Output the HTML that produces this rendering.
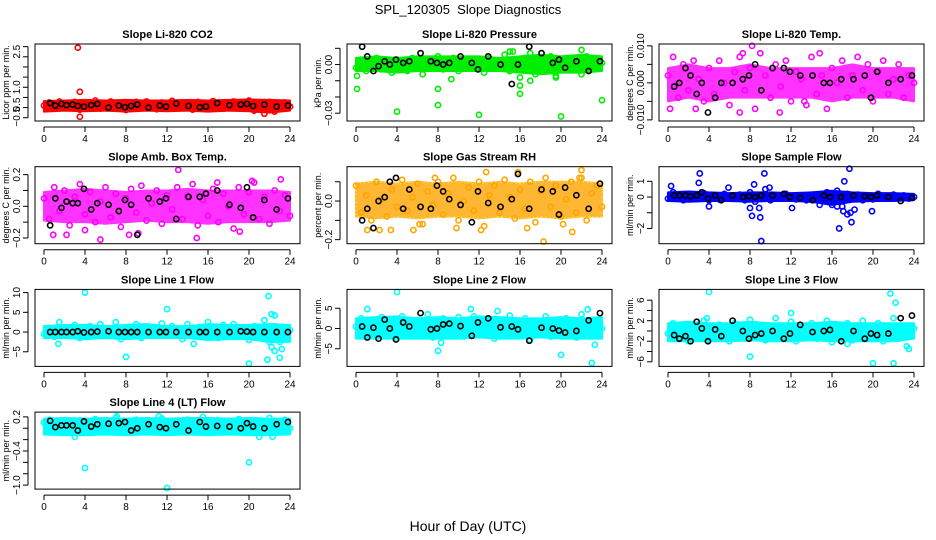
<!DOCTYPE html>
<html><head><meta charset="utf-8"><style>
body{margin:0;background:#fff;}
svg{display:block;font-family:"Liberation Sans",sans-serif;}
</style></head><body>
<svg id="c" width="936" height="540" viewBox="0 0 936 540">
<text x="468" y="14" text-anchor="middle" font-size="13" xml:space="preserve">SPL_120305  Slope Diagnostics</text>
<text x="468" y="531" text-anchor="middle" font-size="14">Hour of Day (UTC)</text>
</svg>
<script>
const CT=[0,0.5,1,1.5,2,2.5,3,3.5,4,4.5,5,5.5,6,6.5,7,7.5,8,8.5,9,9.5,10,10.5,11,11.5,12,12.5,13,13.5,14,14.5,15,15.5,16,16.5,17,17.5,18,18.5,19,19.5,20,20.5,21,21.5,22,22.5,23,23.5,24];
const BT=[0.6,1.1,1.7,2.2,2.8,3.3,3.9,4.6,5.2,6.3,7.3,7.9,8.5,9.1,10.2,11.3,11.9,12.9,14.1,15.2,15.8,16.9,18.1,19.2,19.8,20.4,21.5,22.7,23.8];
const BANDT=[0,2,4,6,8,10,12,14,16,18,20,22,24];
const xTicks=[0,4,8,12,16,20,24];
const titles=["Slope Li-820 CO2","Slope Li-820 Pressure","Slope Li-820 Temp.","Slope Amb. Box Temp.","Slope Gas Stream RH","Slope Sample Flow","Slope Line 1 Flow","Slope Line 2 Flow","Slope Line 3 Flow","Slope Line 4 (LT) Flow"];
const yTitles=["Licor ppm per min.","kPa per min.","degrees C per min.","degrees C per min.","percent per min.","ml/min per min.","ml/min per min.","ml/min per min.","ml/min per min.","ml/min per min."];
const colors=["#ff0000","#00ee00","#ff00ff","#ff00ff","#ffa500","#0000ff","#00ffff","#00ffff","#00ffff","#00ffff"];
const bandOpacity=[1,1,0.8,0.8,0.8,1,1,1,1,1];
const yDomains=[[-0.66,3.13],[-0.0348,0.01265],[-0.0103,0.0105],[-0.236,0.25],[-0.221,0.178],[-2.97,1.93],[-8.7,10.8],[-9.35,9.65],[-6.9,8.1],[-1.07,0.284]];
const yTicks=[[-0.5,0,0.5,1,1.5,2,2.5,3],[-0.03,-0.02,-0.01,0,0.01],[-0.01,-0.005,0,0.005,0.01],[-0.2,-0.1,0,0.1,0.2],[-0.2,-0.1,0,0.1],[-2,-1,0,1],[-5,0,5,10],[-5,0,5],[-6,-4,-2,0,2,4,6],[-1,-0.8,-0.6,-0.4,-0.2,0,0.2]];
const yLabelVals=[[-0.45,0.15,1,2.75],[-0.03,0],[-0.01,0,0.01],[-0.2,0,0.2],[-0.2,0],[-2,0,1],[-5,0,5,10],[-5,0,5],[-6,-2,2,6],[-1,-0.4,0.2]];
const yLabelTxt=[["\u22120.5","0.5","1.0","2.5"],["\u22120.03","0.00"],["\u22120.010","0.000","0.010"],["\u22120.2","0.0","0.2"],["\u22120.2","0.0"],["\u22122","0","1"],["\u22125","0","5","10"],["\u22125","0","5"],["\u22126","\u22122","2","6"],["\u22121.0","\u22120.4","0.2"]];
const C1=[0.1,0.25,-0.05,0.3,0.15,0.05,0.28,-0.1,0.2,0.12,0.35,-0.05,0.18,0.3,0.05,0.22,-0.12,0.15,0.28,0.02,0.3,0.1,-0.08,0.25,0.15,0.33,0.0,0.2,0.12,-0.1,0.28,0.18,0.05,0.32,0.1,-0.05,0.22,0.3,0.08,0.15,0.35,-0.15,0.2,0.05,0.28,-0.2,0.12,0.25,0.05];
const C2=[-0.002,0.003,-0.004,0.001,0.004,-0.003,0.002,-0.005,0.003,0.0,-0.004,0.004,0.001,-0.006,0.003,-0.002,0.005,-0.003,0.002,0.004,-0.004,0.001,-0.002,0.003,0.0,-0.005,0.004,-0.001,0.002,0.006,-0.004,0.003,-0.008,0.004,0.007,-0.006,0.002,-0.003,0.005,-0.007,0.003,-0.002,0.004,0.001,-0.006,0.005,-0.003,0.002,0.001];
const C3=[0.002,0.007,-0.004,0.005,-0.002,0.006,0.001,-0.005,0.004,-0.003,0.006,0.0,-0.006,0.003,0.007,-0.002,0.004,-0.007,0.008,0.002,-0.004,0.005,-0.001,0.006,-0.005,0.003,0.001,-0.006,0.007,-0.003,0.002,-0.007,0.004,0.0,0.006,-0.004,0.002,0.007,-0.002,0.005,-0.005,0.003,0.006,-0.003,0.001,0.005,-0.004,0.002,0.0];
const C4=[0.05,-0.08,0.12,-0.03,0.1,-0.12,0.06,0.14,-0.05,0.09,-0.1,0.03,0.12,-0.07,0.08,-0.13,0.05,0.11,-0.04,0.13,-0.09,0.02,0.1,-0.11,0.07,-0.02,0.12,-0.08,0.06,0.14,-0.12,0.04,-0.06,0.11,-0.1,0.08,0.0,-0.14,0.12,-0.05,0.09,0.15,-0.08,0.06,-0.11,0.1,-0.03,0.07,-0.06];
const C5=[0.08,-0.06,0.03,-0.1,0.1,0.01,-0.08,0.06,-0.03,0.11,-0.05,0.02,0.09,-0.12,0.05,-0.02,0.1,-0.07,0.04,0.12,-0.1,0.0,0.07,-0.05,0.1,-0.13,0.03,0.08,-0.06,0.11,0.02,-0.09,0.06,-0.04,0.1,-0.11,0.05,0.12,-0.03,0.08,-0.08,0.01,0.1,-0.06,0.12,-0.1,0.04,0.08,-0.03];
const C6=[-0.1,0.3,0.1,-0.2,0.2,-0.1,0.0,0.25,-0.2,0.1,-0.15,0.2,0.05,-0.1,0.15,-0.2,0.3,-0.3,0.1,0.5,-0.2,0.1,-0.1,0.2,0.0,-0.15,0.1,-0.2,0.15,0.05,-0.1,0.3,-0.5,0.4,-0.6,0.2,-0.1,0.15,-0.2,0.1,-0.15,0.2,0.05,-0.1,0.15,-0.05,0.1,-0.1,0.0];
const C7=[-0.5,1.0,-1.2,2.5,-0.8,0.5,1.8,-1.5,0.2,1.5,-1.0,2.0,-0.5,0.8,2.5,-1.8,1.0,-0.2,2.0,-1.5,0.5,1.2,-1.0,2.2,-0.6,1.5,0.3,-1.8,2.0,-0.8,1.0,-1.2,2.5,0.2,-1.5,1.8,-0.5,2.0,-1.2,0.8,-2.0,1.5,-0.5,3.0,-2.5,1.5,-2.5,1.0,0.5];
const C8=[0.5,2.5,-2.0,1.0,-1.5,2.8,-0.5,1.5,-2.5,3.0,0.5,-1.8,2.0,-1.0,3.5,-2.2,0.8,2.5,-1.5,0.0,2.8,-2.0,1.2,3.0,-1.2,0.5,2.2,-2.5,1.5,-0.8,3.2,-1.5,0.2,2.5,-2.8,1.0,-0.5,3.0,-2.0,1.8,-1.2,2.5,0.5,-2.2,3.5,-1.0,2.0,-1.5,0.0];
const C9=[-0.5,1.5,-1.5,0.5,-2.0,1.0,-0.8,2.0,-1.8,0.2,1.2,-1.2,-2.0,1.5,0.0,-1.5,2.2,-0.5,1.0,-1.8,0.5,2.5,-1.0,-0.2,1.8,-2.0,0.8,-0.8,1.5,-1.5,0.2,2.0,-2.2,1.0,-0.5,1.5,-1.8,0.5,2.0,-1.2,0.0,1.5,-2.0,0.8,2.5,-1.5,0.5,-0.8,0.5];
const C10=[0.1,0.15,-0.05,0.12,0.0,0.08,-0.08,0.14,0.02,-0.06,0.16,0.05,-0.02,0.12,0.18,-0.04,0.1,0.0,0.15,-0.07,0.08,0.13,-0.03,0.17,0.05,-0.05,0.1,0.02,0.15,-0.06,0.12,0.2,-0.02,0.08,0.14,-0.07,0.1,0.03,0.16,-0.04,0.1,-0.08,0.12,0.06,0.18,-0.05,0.1,0.15,0.0];
const OT1=[3.3,3.5,3.5,21.5],OV1=[2.95,0.78,-0.45,-0.3];
const OT2=[0.1,0.1,4,8,8,12,15,15.3,16,16,17,20,22,24,19.5,9.3],OV2=[-0.007,-0.015,-0.029,-0.015,-0.025,-0.031,0.008,0.008,-0.013,-0.018,-0.01,-0.032,0.009,-0.022,-0.008,-0.009];
const OT3=[0.2,8.2,14.8,13.3,2.7,7.3,10.9,7.0],OV3=[-0.007,0.01,0.008,-0.005,-0.007,0.008,-0.008,-0.008];
const OT4=[0.9,2.2,5.5,8.3,9.2,13.1,14.9,19.1,20.3,23.1,4.0,16.9],OV4=[-0.18,-0.18,-0.21,-0.18,-0.17,0.23,-0.2,-0.16,0.16,0.17,-0.15,0.15];
const OT5=[1.1,2.3,3.4,5.6,6.2,7.7,9.8,12.2,12.7,15.8,16.7,18.3,20.2,21.1,22.0,21.8],OV5=[-0.15,-0.15,-0.15,-0.15,-0.12,0.12,-0.14,-0.15,0.15,0.15,-0.14,-0.21,-0.12,-0.16,0.16,0.12];
const OT6=[0.3,3.1,3.0,4.0,8.2,8.0,8.4,8.9,9.0,9.1,9.4,9.9,12.1,16.7,16.5,17.1,17.2,17.5,17.7,17.9,18.2,19.9,17.8,5.9,14.8],OV6=[0.7,1.5,0.9,-0.6,-1.2,-0.7,0.8,-0.7,-1.3,-2.8,1.5,0.6,-0.7,-2.0,-0.6,-0.9,1.0,-1.1,1.8,-1.6,-0.8,-0.9,-1.0,0.6,-0.5];
const OT7=[4,8,12,20,21.9,21.8,22.2,22.5,23,22.5,23.2,22.2,1.4,14.6],OV7=[10,-6.3,5.8,-8,9.1,-7,4.5,4.2,-6.5,-4.8,-4.3,-3.8,-3.0,-3.0];
const OT8=[4,8,20,23,23.3,11.2,13.8,1.1,22.6,8.3],OV8=[9,-5.5,-6.5,-8.5,-4,4.8,4.3,4.8,4.7,-3.5];
const OT9=[4,8,20,22,21.7,22.2,12,23.3,23.5,17.5,3.8],OV9=[7.6,-5,-6.3,-6.3,7.3,5.5,3.5,-3.0,-3.5,-2.5,2.5];
const OT10=[4,12,20,3,21,22.3,11.2,7.1],OV10=[-0.7,-1.05,-0.6,-0.15,-0.15,-0.15,0.21,0.21];
const B1=[0.22,0.1,0.18,0.12,0.15,0.08,0.05,0.12,0.18,0.0,0.1,0.02,0.08,0.15,0.0,0.1,0.05,0.2,0.08,0.02,0.05,0.22,0.12,0.15,0.18,0.08,0.15,0.05,0.1];
const B2=[0.011,0.005,-0.004,-0.001,0.002,0.0,0.003,0.001,0.002,0.007,0.002,0.001,0.0,0.001,0.005,0.001,-0.003,0.005,0.0,-0.012,0.0,0.011,0.007,0.001,0.003,-0.002,0.002,-0.004,0.002];
const B3=[-0.001,0.0,0.004,0.002,-0.003,0.0,-0.008,-0.004,0.0,0.0,0.001,0.002,0.005,-0.002,0.004,0.004,0.003,0.002,0.002,0.0,0.0,0.001,0.001,0.002,-0.004,0.003,0.0,0.001,0.002];
const B4=[-0.12,0.05,-0.01,0.03,0.02,0.02,0.11,-0.02,0.02,0.01,-0.03,0.04,0.01,-0.18,0.05,0.03,0.05,-0.08,0.06,0.06,0.08,0.1,0.01,-0.01,0.12,-0.07,0.04,-0.02,0.05];
const B5=[-0.1,-0.04,-0.14,0.0,0.02,0.1,0.12,-0.04,0.06,-0.03,-0.04,0.08,0.05,0.01,-0.02,-0.11,0.05,-0.01,-0.03,0.01,0.14,-0.04,0.06,0.05,-0.07,0.07,0.03,-0.04,0.09];
const B6=[0.1,0.1,0.1,0.05,0.1,0.3,-0.1,0.1,-0.2,0.1,0.0,0.05,0.0,0.1,0.1,0.2,0.0,-0.05,-0.2,0.1,0.0,0.0,0.1,0.05,0.0,0.1,0.0,-0.25,-0.05];
const B7=[0,0,0,0,0,0.2,-0.1,0,0.1,0.2,0,0,0,0,0,0,0,0,0,0,0,0,0,0.2,0.1,0,0,0,0];
const B8=[0.5,-2.2,0.2,-2.5,2.2,0,-2.7,1.5,0.5,3.8,-0.2,0.0,1.0,1.2,0.6,-1.8,1.5,2.5,0.3,0.5,-0.2,-3.0,0.2,0.0,-0.5,-1.0,-0.6,2.0,3.8];
const B9=[-0.8,-1.5,-1.0,-2.0,1.8,0.5,-2.0,0.3,-1.0,2.0,0.0,-1.5,-0.8,-0.5,0.0,-1.5,-0.5,1.2,-0.2,0.0,0.2,-2.0,0.0,-1.5,-0.5,-0.8,-0.5,2.5,3.0];
const B10=[0.13,0.02,0.05,0.05,0.05,-0.04,0.12,0.03,0.07,0.08,0.09,0.11,-0.04,0.0,0.07,0.02,0.0,0.07,-0.04,0.11,0.03,0.04,0.03,0.0,0.09,0.03,0.0,0.07,0.11];
const BL1=[-0.2,-0.15,-0.18,-0.15,-0.2,-0.15,-0.18,-0.15,-0.2,-0.15,-0.18,-0.25,-0.15],BH1=[0.32,0.35,0.38,0.35,0.38,0.35,0.35,0.38,0.35,0.38,0.4,0.38,0.35];
const BL2=[-0.004,-0.004,-0.005,-0.004,-0.004,-0.004,-0.004,-0.004,-0.005,-0.006,-0.005,-0.005,-0.004],BH2=[0.004,0.005,0.004,0.005,0.005,0.005,0.005,0.004,0.005,0.006,0.005,0.006,0.005];
const BL3=[-0.005,-0.004,-0.005,-0.004,-0.004,-0.004,-0.004,-0.004,-0.005,-0.004,-0.004,-0.004,-0.005],BH3=[0.004,0.005,0.004,0.004,0.005,0.004,0.004,0.004,0.004,0.005,0.004,0.004,0.004];
const BL4=[-0.09,-0.1,-0.1,-0.11,-0.1,-0.09,-0.1,-0.1,-0.11,-0.1,-0.1,-0.1,-0.09],BH4=[0.09,0.1,0.11,0.1,0.09,0.1,0.1,0.11,0.1,0.1,0.1,0.1,0.09];
const BL5=[-0.08,-0.09,-0.08,-0.09,-0.08,-0.08,-0.09,-0.08,-0.09,-0.08,-0.09,-0.08,-0.08],BH5=[0.09,0.1,0.09,0.1,0.09,0.1,0.09,0.1,0.09,0.1,0.1,0.1,0.09];
const BL6=[-0.25,-0.3,-0.25,-0.25,-0.3,-0.25,-0.25,-0.3,-0.5,-0.3,-0.25,-0.25,-0.2],BH6=[0.3,0.35,0.3,0.25,0.3,0.3,0.25,0.3,0.4,0.3,0.25,0.25,0.2];
const BL7=[-1.5,-1.5,-1.8,-1.5,-1.8,-1.5,-1.5,-1.5,-2.0,-1.8,-1.8,-2.5,-2.5],BH7=[1.5,1.8,1.8,1.5,1.8,2.0,1.5,1.5,2.0,1.8,1.8,2.0,1.8];
const BL8=[-2.5,-2.5,-2.5,-2.5,-2.5,-2.5,-2.2,-2.5,-2.5,-2.2,-2.5,-2.5,-2.5],BH8=[2.5,2.8,3.0,2.5,2.8,2.5,3.0,2.8,2.5,2.5,2.8,2.5,2.8];
const BL9=[-2,-2,-2,-2,-1.8,-2,-2,-1.8,-2,-2,-2,-2,-1.5],BH9=[1.5,1.8,1.5,1.5,1.8,1.5,1.5,1.5,1.8,1.5,1.5,1.5,1.5];
const BL10=[-0.11,-0.12,-0.12,-0.11,-0.12,-0.11,-0.12,-0.11,-0.12,-0.11,-0.12,-0.12,-0.11],BH10=[0.17,0.18,0.17,0.18,0.17,0.18,0.17,0.18,0.18,0.17,0.18,0.17,0.17];

const colored=[C1,C2,C3,C4,C5,C6,C7,C8,C9,C10];
const outT=[OT1,OT2,OT3,OT4,OT5,OT6,OT7,OT8,OT9,OT10];
const outV=[OV1,OV2,OV3,OV4,OV5,OV6,OV7,OV8,OV9,OV10];
const black=[B1,B2,B3,B4,B5,B6,B7,B8,B9,B10];
const bandLo=[BL1,BL2,BL3,BL4,BL5,BL6,BL7,BL8,BL9,BL10];
const bandHi=[BH1,BH2,BH3,BH4,BH5,BH6,BH7,BH8,BH9,BH10];

const NS="http://www.w3.org/2000/svg";
const svg=document.getElementById('c');
function mk(tag,attrs,parent){const e=document.createElementNS(NS,tag);for(const k in attrs)e.setAttribute(k,attrs[k]);parent.appendChild(e);return e;}
const colL=[35,347,659],colR=[300,612,924];
for(let p=0;p<10;p++){
  const col=p%3,row=Math.floor(p/3);
  const L=colL[col],R=colR[col],T=44+122.7*row,B=T+77;
  const [y0,y1]=yDomains[p];
  const xs=h=>L+9+(R-L-19)*h/24;
  const ys=v=>B-(v-y0)/(y1-y0)*(B-T);
  const g=mk('g',{},svg);
  
  
  const tt=mk('text',{x:(L+R)/2,y:T-6,'text-anchor':'middle','font-size':11,'font-weight':'bold'},g);
  tt.textContent=titles[p];
  
  
  let pts=BANDT.map((h,i)=>xs(h)+','+ys(bandHi[p][i]));
  pts=pts.concat(BANDT.map((h,i)=>xs(h)+','+ys(bandLo[p][i])).reverse());
  const bd=mk('polygon',{points:pts.join(' '),fill:colors[p],stroke:colors[p],'stroke-width':2,'stroke-linejoin':'round',opacity:bandOpacity[p]},g);
  
  
  if(p===4){const bd2=mk('polygon',{points:pts.join(' '),fill:'none',stroke:'#ffff00','stroke-width':1,'stroke-dasharray':'1 3'},g);
    
    }
  const ptColor=colors[p];
  colored[p].forEach((v,i)=>{
    const c=mk('circle',{cx:xs(CT[i]),cy:ys(v),r:2.6,fill:'none',stroke:ptColor,'stroke-width':1.6},g);
    
    
  });
  outV[p].forEach((v,i)=>{
    const c=mk('circle',{cx:xs(outT[p][i]),cy:ys(v),r:2.6,fill:'none',stroke:ptColor,'stroke-width':1.6},g);
    
    
  });
  black[p].forEach((v,i)=>{
    const c=mk('circle',{cx:xs(BT[i]),cy:ys(v),r:2.6,fill:'none',stroke:'#000','stroke-width':1.6},g);
    
    
  });
  const box=mk('rect',{x:L,y:T,width:R-L,height:B-T,fill:'none',stroke:'#000','stroke-width':1},g);
  
  
  const ax=mk('g',{},g);
  
  
  mk('line',{x1:xs(0),x2:xs(24),y1:B+6,y2:B+6,stroke:'#000'},ax);
  xTicks.forEach(h=>{
    mk('line',{x1:xs(h),x2:xs(h),y1:B+6,y2:B+11,stroke:'#000'},ax);
    const t=mk('text',{x:xs(h),y:B+21,'text-anchor':'middle','font-size':10},ax);
    t.textContent=h;
    
    
  });
  const ay=mk('g',{},g);
  
  
  const tk=yTicks[p];
  mk('line',{x1:L-7,x2:L-7,y1:ys(Math.min(...tk)),y2:ys(Math.max(...tk)),stroke:'#000'},ay);
  tk.forEach(v=>mk('line',{x1:L-12,x2:L-7,y1:ys(v),y2:ys(v),stroke:'#000'},ay));
  yLabelVals[p].forEach((v,i)=>{
    const y=ys(v),x=L-15;
    const t=mk('text',{x:x,y:y,'text-anchor':'middle','font-size':10,transform:`rotate(-90 ${x} ${y})`},ay);
    t.textContent=yLabelTxt[p][i];
    
    
  });
  const yt=mk('text',{x:L-26,y:(T+B)/2,'text-anchor':'middle','font-size':9,transform:`rotate(-90 ${L-26} ${(T+B)/2})`},g);
  yt.textContent=yTitles[p];
  
  
}
</script>
</body></html>
